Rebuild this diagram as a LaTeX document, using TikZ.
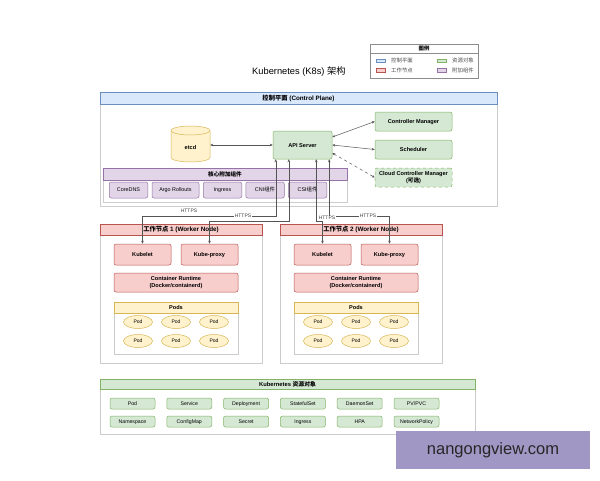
\documentclass[tikz,border=0pt]{standalone}
\usepackage{fontspec}
\setmainfont{Liberation Sans}
\newfontfamily\cjk{Noto Sans CJK SC}
\usetikzlibrary{arrows.meta,shapes.geometric}
\definecolor{bfill}{HTML}{DAE8FC}\definecolor{bdraw}{HTML}{6C8EBF}
\definecolor{gfill}{HTML}{D5E8D4}\definecolor{gdraw}{HTML}{82B366}
\definecolor{rfill}{HTML}{F8CECC}\definecolor{rdraw}{HTML}{B85450}
\definecolor{pfill}{HTML}{E1D5E7}\definecolor{pdraw}{HTML}{9673A6}
\definecolor{yfill}{HTML}{FFF2CC}\definecolor{ydraw}{HTML}{D6B656}
\definecolor{cgray}{HTML}{CCCCCC}
\definecolor{lgray}{HTML}{555555}
\definecolor{wmark}{HTML}{A197C4}
\begin{document}
\begin{tikzpicture}[x=1pt,y=-1pt,
  boxbase/.style={draw, rounded corners=2pt, line width=0.5pt, inner sep=0pt},
  box/.style={boxbase, text height=4pt, text depth=0pt, font=\fontsize{5.6}{6.6}\selectfont\bfseries},
  boxtwo/.style={boxbase, align=center, font=\fontsize{5.6}{6.4}\selectfont\bfseries},
  gbox/.style={box, fill=gfill, draw=gdraw},
  rbox/.style={box, fill=rfill, draw=rdraw},
  itemp/.style={boxbase, fill=pfill, draw=pdraw, text height=3.9pt, text depth=0pt, font=\fontsize{5.4}{6.4}\selectfont},
  itemg/.style={boxbase, fill=gfill, draw=gdraw, text height=3.7pt, text depth=0pt, font=\fontsize{5.2}{6.2}\selectfont},
  cont/.style={draw=cgray, fill=white, line width=0.5pt, inner sep=0pt},
  hdr/.style={draw, line width=0.5pt, inner sep=0pt, text height=4.5pt, text depth=0pt, font=\fontsize{6.3}{7.3}\selectfont\bfseries},
  pod/.style={ellipse, draw=ydraw, fill=yfill, line width=0.5pt, minimum width=29, minimum height=13, inner sep=0pt, text height=3.6pt, text depth=0pt, font=\fontsize{5}{6}\selectfont},
  arr/.style={draw=lgray, line width=0.5pt, {Stealth[length=3pt,width=2.6pt]}-{Stealth[length=3pt,width=2.6pt]}},
  httpslbl/.style={fill=white, inner sep=0.6pt, text height=3.6pt, text depth=0pt, font=\fontsize{5}{6}\selectfont, text=black!75},
  legtext/.style={anchor=west, inner sep=0pt, font=\fontsize{5.4}{6.4}\selectfont\cjk, text=black!70},
  swatch/.style={draw, line width=0.4pt, minimum width=9, minimum height=3.5, inner sep=0pt}
]
\useasboundingbox (0,0) rectangle (600,480);

% ---------- legend ----------
\node[draw=black!45, fill=white, line width=0.5pt, minimum width=108, minimum height=34, inner sep=0pt] (legend) at (424,61) {};
\draw[black!45, line width=0.5pt] (legend.west |- 0,53) -- (legend.east |- 0,53);
\node[inner sep=0pt, font=\fontsize{5.4}{6.4}\selectfont\cjk\bfseries] (legtitle) at (424,48.5) {图例};
\node[swatch, fill=bfill, draw=bdraw] (sw1) at (381,60.5) {};
\node[legtext] (lt1) at (391,60.5) {控制平面};
\node[swatch, fill=rfill, draw=rdraw] (sw2) at (381,70) {};
\node[legtext] (lt2) at (391,70) {工作节点};
\node[swatch, fill=gfill, draw=gdraw] (sw3) at (441.5,60.5) {};
\node[legtext] (lt3) at (452,60.5) {资源对象};
\node[swatch, fill=pfill, draw=pdraw] (sw4) at (441.5,70) {};
\node[legtext] (lt4) at (452,70) {附加组件};

% ---------- title ----------
\node[inner sep=0pt, font=\fontsize{9.3}{11}\selectfont] (title) at (299,72) {Kubernetes (K8s) {\cjk 架构}};

% ---------- control plane ----------
\node[cont, minimum width=397, minimum height=114] (cp) at (298.5,149) {};
\node[hdr, fill=bfill, draw=bdraw, minimum width=397, minimum height=12] (cph) at (298.5,98) {{\cjk 控制平面} (Control Plane)};

% etcd cylinder
\filldraw[fill=yfill, draw=ydraw, line width=0.5pt]
  (171,130.5) -- (171,157.5) arc[start angle=180, end angle=360, x radius=19.5pt, y radius=4.5pt]
  -- (210,130.5) arc[start angle=0, end angle=180, x radius=19.5pt, y radius=4.5pt] -- cycle;
\draw[ydraw, line width=0.5pt] (171,130.5) arc[start angle=180, end angle=360, x radius=19.5pt, y radius=4.5pt];
\node[inner sep=0pt, minimum width=39, minimum height=30, text height=4pt, text depth=0pt, font=\fontsize{5.6}{6.6}\selectfont\bfseries] (etcd) at (190.5,147) {etcd};

\node[gbox, minimum width=59, minimum height=28] (api) at (302.5,145) {API Server};
\node[gbox, minimum width=77, minimum height=19] (cm) at (413.5,121.5) {Controller Manager};
\node[gbox, minimum width=77, minimum height=19] (sch) at (413.5,149.5) {Scheduler};
\node[boxtwo, fill=gfill, draw=gdraw, dashed, minimum width=77, minimum height=19] (ccm) at (413.5,177.5) {Cloud Controller Manager\\({\cjk 可选})};

% addon group
\node[cont, minimum width=244, minimum height=34] (addon) at (225,185) {};
\node[hdr, fill=pfill, draw=pdraw, minimum width=244, minimum height=12, text height=4pt, font=\fontsize{5.6}{6.6}\selectfont\bfseries] (addonh) at (225,174) {\cjk 核心附加组件};
\node[itemp, minimum width=38.5, minimum height=16] (dns) at (128.5,190) {CoreDNS};
\node[itemp, minimum width=47, minimum height=16] (argo) at (175.5,190) {Argo Rollouts};
\node[itemp, minimum width=38.5, minimum height=16] (ingr) at (222.5,190) {Ingress};
\node[itemp, minimum width=38.5, minimum height=16] (cni) at (265,190) {CNI{\cjk 组件}};
\node[itemp, minimum width=38.5, minimum height=16] (csi) at (307.5,190) {CSI{\cjk 组件}};

\draw[arr] (etcd.east |- api.west) -- (api.west);
\draw[arr] ([yshift=8pt]api.east) -- (cm.west);
\draw[arr] (api.east) -- (sch.west);
\draw[arr, dashed] ([yshift=-8pt]api.east) -- (ccm.west);

% ---------- worker nodes ----------
\node[cont, minimum width=162, minimum height=139] (w1) at (181,293.5) {};
\node[hdr, fill=rfill, draw=rdraw, minimum width=162, minimum height=11] (w1h) at (181,229.5) {{\cjk 工作节点} 1 (Worker Node)};
\node[rbox, minimum width=57, minimum height=21] (kl1) at (142.5,254.5) {Kubelet};
\node[rbox, minimum width=57, minimum height=21] (kp1) at (209.5,254.5) {Kube-proxy};
\node[boxtwo, fill=rfill, draw=rdraw, minimum width=124, minimum height=19] (cr1) at (176,282.5) {Container Runtime\\(Docker/containerd)};
\node[cont, minimum width=124, minimum height=52] (pods1) at (176,328) {};
\node[hdr, fill=yfill, draw=ydraw, minimum width=124, minimum height=11, text height=4pt, font=\fontsize{5.6}{6.6}\selectfont\bfseries] (pods1h) at (176,307.5) {Pods};
\node[pod] (p11) at (138,322) {Pod};
\node[pod] (p12) at (176,322) {Pod};
\node[pod] (p13) at (214,322) {Pod};
\node[pod] (p14) at (138,341) {Pod};
\node[pod] (p15) at (176,341) {Pod};
\node[pod] (p16) at (214,341) {Pod};

\node[cont, minimum width=162, minimum height=139] (w2) at (361,293.5) {};
\node[hdr, fill=rfill, draw=rdraw, minimum width=162, minimum height=11] (w2h) at (361,229.5) {{\cjk 工作节点} 2 (Worker Node)};
\node[rbox, minimum width=57, minimum height=21] (kl2) at (322.5,254.5) {Kubelet};
\node[rbox, minimum width=57, minimum height=21] (kp2) at (389.5,254.5) {Kube-proxy};
\node[boxtwo, fill=rfill, draw=rdraw, minimum width=124, minimum height=19] (cr2) at (356,282.5) {Container Runtime\\(Docker/containerd)};
\node[cont, minimum width=124, minimum height=52] (pods2) at (356,328) {};
\node[hdr, fill=yfill, draw=ydraw, minimum width=124, minimum height=11, text height=4pt, font=\fontsize{5.6}{6.6}\selectfont\bfseries] (pods2h) at (356,307.5) {Pods};
\node[pod] (p21) at (318,322) {Pod};
\node[pod] (p22) at (356,322) {Pod};
\node[pod] (p23) at (394,322) {Pod};
\node[pod] (p24) at (318,341) {Pod};
\node[pod] (p25) at (356,341) {Pod};
\node[pod] (p26) at (394,341) {Pod};

% HTTPS connectors
\draw[arr] ([xshift=3pt]api.south west) -- ++(0,57) -| (kl1.north);
\draw[arr] ([xshift=16pt]api.south west) -- ++(0,62) -| (kp1.north);
\draw[arr] ([xshift=-16pt]api.south east) -- ++(0,62) -| (kl2.north);
\draw[arr] ([xshift=-3pt]api.south east) -- ++(0,57) -| (kp2.north);
\node[httpslbl] (h1) at (189,211) {HTTPS};
\node[httpslbl] (h2) at (243,216) {HTTPS};
\node[httpslbl] (h3) at (327,218) {HTTPS};
\node[httpslbl] (h4) at (368,216) {HTTPS};

% ---------- resources ----------
\node[cont, minimum width=375, minimum height=55] (res) at (287.5,406.5) {};
\node[hdr, fill=gfill, draw=gdraw, minimum width=375, minimum height=10, text height=4.2pt, font=\fontsize{5.8}{6.8}\selectfont\bfseries] (resh) at (287.5,384) {Kubernetes {\cjk 资源对象}};
\node[itemg, minimum width=45, minimum height=11] (r1) at (132.5,403.5) {Pod};
\node[itemg, minimum width=45, minimum height=11] (r2) at (189.3,403.5) {Service};
\node[itemg, minimum width=45, minimum height=11] (r3) at (246.1,403.5) {Deployment};
\node[itemg, minimum width=45, minimum height=11] (r4) at (302.9,403.5) {StatefulSet};
\node[itemg, minimum width=45, minimum height=11] (r5) at (359.7,403.5) {DaemonSet};
\node[itemg, minimum width=45, minimum height=11] (r6) at (416.5,403.5) {PV/PVC};
\node[itemg, minimum width=45, minimum height=11] (r7) at (132.5,421.5) {Namespace};
\node[itemg, minimum width=45, minimum height=11] (r8) at (189.3,421.5) {ConfigMap};
\node[itemg, minimum width=45, minimum height=11] (r9) at (246.1,421.5) {Secret};
\node[itemg, minimum width=45, minimum height=11] (r10) at (302.9,421.5) {Ingress};
\node[itemg, minimum width=45, minimum height=11] (r11) at (359.7,421.5) {HPA};
\node[itemg, minimum width=45, minimum height=11] (r12) at (416.5,421.5) {NetworkPolicy};

% ---------- watermark ----------
\node[fill=wmark, minimum width=194, minimum height=38, inner sep=0pt, font=\fontsize{16.5}{18}\selectfont, text=black!85] (wm) at (493,450) {nangongview.com};
\end{tikzpicture}
\end{document}
